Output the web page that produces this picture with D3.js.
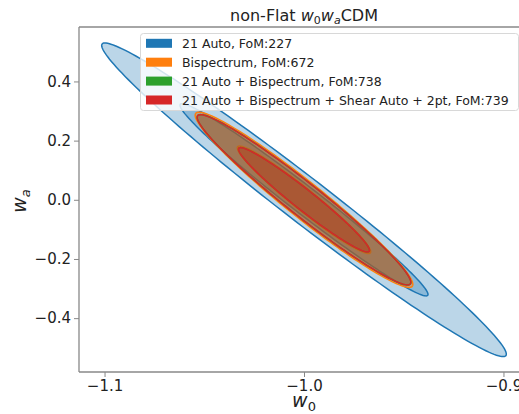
<!DOCTYPE html>
<html>
<head>
<meta charset="utf-8">
<script src="https://cdn.jsdelivr.net/npm/d3@7/dist/d3.min.js"></script>
<style>
  html, body { margin: 0; padding: 0; background: #fff; }
  svg { display: block; font-family: "DejaVu Sans", sans-serif; }
</style>
</head>
<body>
<svg id="chart" width="519" height="414"></svg>
<script>
// ---- data ----
const seriesNames = ["21 Auto", "Bispectrum", "21 Auto + Bispectrum", "21 Auto + Bispectrum + Shear Auto + 2pt"];
const foms        = [227, 672, 738, 739];
const colors      = ["#1f77b4", "#ff7f0e", "#2ca02c", "#d62728"];
const centerW0    = [-1.0, -1.0, -1.0, -1.0];
const centerWa    = [0.0, 0.0, 0.0, 0.0];
const sigmaW0     = [0.0409, 0.0220, 0.0216, 0.0216];
const sigmaWa     = [0.2137, 0.1194, 0.1161, 0.1160];
const corr        = [-0.984, -0.966, -0.969, -0.969];
const levels      = [2.48, 1.52];   // 2-sigma (outer) then 1-sigma (inner) contour scale
const xTicks      = [-1.1, -1.0, -0.9];
const yTicks      = [-0.4, -0.2, 0.0, 0.2, 0.4];
const xDomain     = [-1.1128, -0.8872];
const yDomain     = [-0.582, 0.584];

(function () {
// ---- layout ----
const svg = d3.select("#chart");
const mLeft = 79, mRight = 529, mTop = 27, mBottom = 372;
const x = d3.scaleLinear().domain(xDomain).range([mLeft, mRight]);
const y = d3.scaleLinear().domain(yDomain).range([mBottom, mTop]);

const defs = svg.append("defs");
defs.append("clipPath").attr("id", "clip")
  .append("rect").attr("x", mLeft).attr("y", mTop).attr("width", mRight - mLeft).attr("height", mBottom - mTop);

const minus = s => s.replace("-", "\u2212");

// ---- ellipses ----
const g = svg.append("g").attr("clip-path", "url(#clip)");
const angles = d3.range(0, 361, 2).map(a => a * Math.PI / 180);
const line = d3.line().x(d => x(d[0])).y(d => y(d[1])).curve(d3.curveLinearClosed);

seriesNames.forEach((name, i) => {
  const sx = sigmaW0[i], sy = sigmaWa[i], r = corr[i];
  const s = Math.sqrt(1 - r * r);
  levels.forEach(a => {
    const pts = angles.map(t => [
      centerW0[i] + a * sx * Math.cos(t),
      centerWa[i] + a * sy * (r * Math.cos(t) + s * Math.sin(t))
    ]);
    g.append("path")
      .attr("d", line(pts))
      .attr("fill", colors[i])
      .attr("fill-opacity", i === 0 ? 0.3 : 0.34)
      .attr("stroke", colors[i])
      .attr("stroke-width", 1.5);
  });
});

// ---- axes ----
const spine = "#888";
const xAxis = svg.append("g").attr("transform", `translate(0,${mBottom})`)
  .call(d3.axisBottom(x).tickValues(xTicks).tickSize(5).tickPadding(3).tickFormat(d => minus(d3.format(".1f")(d))));
const yAxis = svg.append("g").attr("transform", `translate(${mLeft},0)`)
  .call(d3.axisLeft(y).tickValues(yTicks).tickSize(5).tickPadding(3).tickFormat(d => minus(d3.format(".1f")(d))));
[xAxis, yAxis].forEach(ax => {
  ax.select(".domain").remove();
  ax.selectAll(".tick line").attr("stroke", spine).attr("stroke-width", 1);
  ax.selectAll(".tick text").attr("fill", "#222").style("font-size", "15px").style("font-family", "DejaVu Sans");
});
// spines
svg.append("line").attr("x1", mLeft).attr("x2", mRight).attr("y1", mBottom).attr("y2", mBottom).attr("stroke", spine).attr("stroke-width", 1.3);
svg.append("line").attr("x1", mLeft).attr("x2", mRight).attr("y1", mTop).attr("y2", mTop).attr("stroke", spine).attr("stroke-width", 1.3);
svg.append("line").attr("x1", mLeft).attr("x2", mLeft).attr("y1", mTop).attr("y2", mBottom).attr("stroke", spine).attr("stroke-width", 1.3);

// ---- title ----
const title = svg.append("text").attr("x", 304).attr("y", 21).attr("text-anchor", "middle")
  .style("font-size", "16px").attr("fill", "#222");
title.append("tspan").text("non-Flat ");
title.append("tspan").style("font-style", "italic").text("w");
title.append("tspan").attr("dy", 3).style("font-size", "11px").text("0");
title.append("tspan").attr("dy", -3).style("font-style", "italic").text("w");
title.append("tspan").attr("dy", 3).style("font-size", "11px").style("font-style", "italic").text("a");
title.append("tspan").attr("dy", -3).text("CDM");

// ---- axis labels ----
const xl = svg.append("text").attr("x", 304).attr("y", 406.5).attr("text-anchor", "middle")
  .style("font-size", "19px").attr("fill", "#222");
xl.append("tspan").style("font-style", "italic").text("w");
xl.append("tspan").attr("dy", 4).style("font-size", "13px").text("0");

const yl = svg.append("text").attr("transform", "translate(26,201) rotate(-90)").attr("text-anchor", "middle")
  .style("font-size", "19px").attr("fill", "#222");
yl.append("tspan").style("font-style", "italic").text("w");
yl.append("tspan").attr("dy", 4).style("font-size", "13px").style("font-style", "italic").text("a");

// ---- legend ----
const lg = svg.append("g");
lg.append("rect").attr("x", 140.5).attr("y", 33.5).attr("width", 378).attr("height", 77).attr("rx", 3)
  .attr("fill", "#fff").attr("fill-opacity", 0.8).attr("stroke", "#d8d8d8").attr("stroke-width", 1);
seriesNames.forEach((name, i) => {
  const cy = 43.3 + i * 18.9;
  lg.append("rect").attr("x", 146).attr("y", cy - 4.5).attr("width", 26).attr("height", 9).attr("fill", colors[i]);
  lg.append("text").attr("x", 182).attr("y", cy + 4.5).style("font-size", "12.5px").attr("fill", "#222")
    .text(`${name}, FoM:${foms[i]}`);
});
})();
</script>
</body>
</html>
